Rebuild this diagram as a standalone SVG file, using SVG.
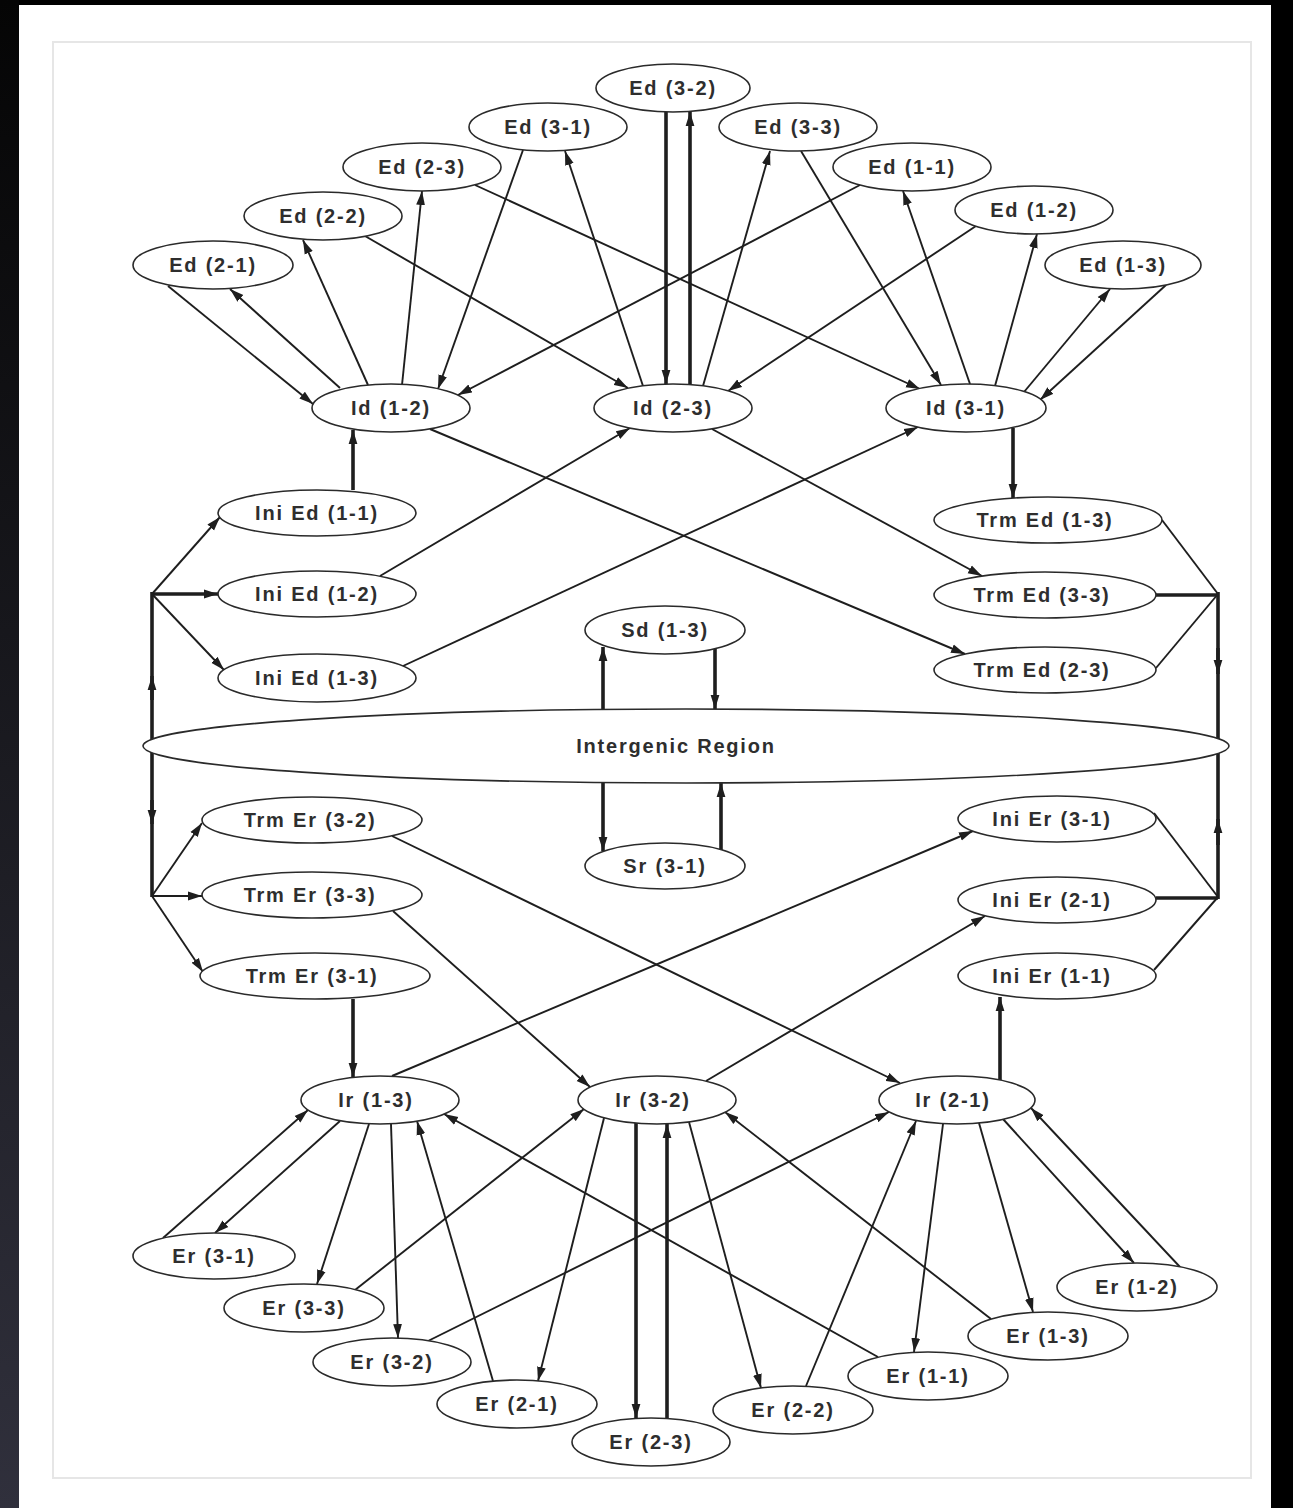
<svg xmlns="http://www.w3.org/2000/svg" width="1293" height="1508" viewBox="0 0 1293 1508">
<defs>
<style>
.n ellipse{fill:#fff;stroke:#2a2a2a;stroke-width:1.6}
.n text{font-family:"Liberation Sans",Arial,sans-serif;font-weight:bold;font-size:20px;letter-spacing:1.8px;fill:#2e2e2e;text-anchor:middle}
.c path{fill:none;stroke:#1e1e1e;stroke-width:1.9}
.c path.t{stroke-width:3.6}
.c path.a{marker-end:url(#ah)}
</style>
<marker id="ah" markerUnits="userSpaceOnUse" markerWidth="15" markerHeight="10" refX="14" refY="5" orient="auto">
<path d="M0,0.6 L14,5 L0,9.4 z" fill="#1e1e1e"/>
</marker>
<linearGradient id="lg" x1="0" y1="0" x2="0" y2="1">
<stop offset="0" stop-color="#050505"/>
<stop offset="1" stop-color="#30303c"/>
</linearGradient>
</defs>
<rect width="1293" height="1508" fill="#000"/>
<rect x="0" y="0" width="19" height="1508" fill="url(#lg)"/>
<rect x="19" y="5" width="1252" height="1503" fill="#fff"/>
<rect x="53" y="42" width="1198" height="1436" fill="none" stroke="#e6e6e6" stroke-width="2"/>

<g id="connectors" class="c">
<!-- top fan -->
<path class="a" d="M168,286 L313,404"/>
<path class="a" d="M340,388 L230,289"/>
<path class="a" d="M368,385 L303,240"/>
<path class="a" d="M402,385 L422,191"/>
<path class="a" d="M523,150 L438,389"/>
<path class="a" d="M860,185 L458,395"/>
<path class="a" d="M365,236 L628,388"/>
<path class="a" d="M643,386 L565,151"/>
<path class="a t" d="M666,112 L666,384"/>
<path class="a t" d="M690,385 L690,112"/>
<path class="a" d="M703,386 L770,151"/>
<path class="a" d="M976,226 L728,391"/>
<path class="a" d="M475,185 L920,389"/>
<path class="a" d="M801,151 L941,385"/>
<path class="a" d="M970,384 L903,191"/>
<path class="a" d="M995,386 L1037,234"/>
<path class="a" d="M1024,392 L1110,289"/>
<path class="a" d="M1166,285 L1040,400"/>
<!-- Ini Ed / Trm Ed -->
<path class="a t" d="M353,490 L353,430"/>
<path class="a" d="M380,576 L630,428"/>
<path class="a" d="M403,666 L918,427"/>
<path class="a" d="M430,429 L965,654"/>
<path class="a" d="M712,429 L982,576"/>
<path class="a t" d="M1013,428 L1013,498"/>
<!-- left upper branch -->
<path class="a" d="M152,594 L220,517"/>
<path class="a t" d="M152,594 L218,594"/>
<path class="a" d="M152,594 L224,670"/>
<!-- right upper branch -->
<path d="M1162,520 L1218,594"/>
<path class="t" d="M1156,595 L1218,595"/>
<path d="M1156,668 L1218,594"/>
<!-- vertical sides -->
<path class="t" d="M152,592 L152,897"/>
<path class="a t" d="M152,700 L152,676"/>
<path class="a t" d="M152,800 L152,824"/>
<path class="t" d="M1218,592 L1218,899"/>
<path class="a t" d="M1218,648 L1218,674"/>
<path class="a t" d="M1218,845 L1218,819"/>
<!-- intergenic links -->
<path class="a t" d="M603,710 L603,647"/>
<path class="a t" d="M715,649 L715,709"/>
<path class="a t" d="M603,783 L603,851"/>
<path class="a t" d="M721,850 L721,783"/>
<!-- left lower branch -->
<path class="a" d="M152,896 L202,823"/>
<path class="a" d="M152,896 L202,896"/>
<path class="a" d="M152,896 L203,972"/>
<!-- right lower branch -->
<path d="M1154,813 L1218,897"/>
<path class="t" d="M1156,898 L1218,898"/>
<path d="M1154,970 L1218,897"/>
<!-- Trm Er / Ini Er -->
<path class="a t" d="M353,999 L353,1077"/>
<path class="a" d="M392,836 L900,1083"/>
<path class="a" d="M393,911 L590,1087"/>
<path class="a" d="M392,1076 L973,831"/>
<path class="a" d="M706,1081 L985,916"/>
<path class="a t" d="M1000,1080 L1000,997"/>
<!-- bottom fan -->
<path class="a" d="M163,1238 L308,1110"/>
<path class="a" d="M340,1121 L215,1233"/>
<path class="a" d="M369,1124 L317,1284"/>
<path class="a" d="M391,1124 L398,1338"/>
<path class="a" d="M493,1381 L417,1121"/>
<path class="a" d="M878,1357 L444,1114"/>
<path class="a" d="M355,1290 L584,1109"/>
<path class="a" d="M428,1341 L889,1112"/>
<path class="a" d="M604,1118 L538,1381"/>
<path class="a t" d="M636,1123 L636,1418"/>
<path class="a t" d="M667,1418 L667,1124"/>
<path class="a" d="M689,1122 L761,1388"/>
<path class="a" d="M991,1319 L725,1112"/>
<path class="a" d="M806,1386 L916,1121"/>
<path class="a" d="M943,1124 L914,1352"/>
<path class="a" d="M979,1123 L1033,1312"/>
<path class="a" d="M1003,1119 L1134,1263"/>
<path class="a" d="M1180,1267 L1031,1108"/>
</g>

<g id="ed32" class="n"><ellipse cx="673" cy="88" rx="77" ry="24"/><text x="673" y="95">Ed (3-2)</text></g>
<g id="ed31" class="n"><ellipse cx="548" cy="127" rx="79" ry="24"/><text x="548" y="134">Ed (3-1)</text></g>
<g id="ed33" class="n"><ellipse cx="798" cy="127" rx="79" ry="24"/><text x="798" y="134">Ed (3-3)</text></g>
<g id="ed23" class="n"><ellipse cx="422" cy="167" rx="79" ry="24"/><text x="422" y="174">Ed (2-3)</text></g>
<g id="ed11" class="n"><ellipse cx="912" cy="167" rx="79" ry="24"/><text x="912" y="174">Ed (1-1)</text></g>
<g id="ed22" class="n"><ellipse cx="323" cy="216" rx="79" ry="24"/><text x="323" y="223">Ed (2-2)</text></g>
<g id="ed12" class="n"><ellipse cx="1034" cy="210" rx="79" ry="24"/><text x="1034" y="217">Ed (1-2)</text></g>
<g id="ed21" class="n"><ellipse cx="213" cy="265" rx="80" ry="24"/><text x="213" y="272">Ed (2-1)</text></g>
<g id="ed13" class="n"><ellipse cx="1123" cy="265" rx="78" ry="24"/><text x="1123" y="272">Ed (1-3)</text></g>

<g id="id12" class="n"><ellipse cx="391" cy="408" rx="79" ry="24"/><text x="391" y="415">Id (1-2)</text></g>
<g id="id23" class="n"><ellipse cx="673" cy="408" rx="79" ry="24"/><text x="673" y="415">Id (2-3)</text></g>
<g id="id31" class="n"><ellipse cx="966" cy="408" rx="80" ry="24"/><text x="966" y="415">Id (3-1)</text></g>

<g id="iniEd11" class="n"><ellipse cx="317" cy="513" rx="99" ry="23"/><text x="317" y="520">Ini Ed (1-1)</text></g>
<g id="iniEd12" class="n"><ellipse cx="317" cy="594" rx="99" ry="23"/><text x="317" y="601">Ini Ed (1-2)</text></g>
<g id="iniEd13" class="n"><ellipse cx="317" cy="678" rx="99" ry="24"/><text x="317" y="685">Ini Ed (1-3)</text></g>

<g id="trmEd13" class="n"><ellipse cx="1048" cy="520" rx="114" ry="23"/><text x="1045" y="527">Trm Ed (1-3)</text></g>
<g id="trmEd33" class="n"><ellipse cx="1045" cy="595" rx="111" ry="23"/><text x="1042" y="602">Trm Ed (3-3)</text></g>
<g id="trmEd23" class="n"><ellipse cx="1045" cy="670" rx="111" ry="23"/><text x="1042" y="677">Trm Ed (2-3)</text></g>

<g id="sd13" class="n"><ellipse cx="665" cy="630" rx="80" ry="24"/><text x="665" y="637">Sd (1-3)</text></g>
<g id="intergenic" class="n"><ellipse cx="686" cy="746" rx="543" ry="37"/><text x="676" y="753">Intergenic Region</text></g>
<g id="sr31" class="n"><ellipse cx="665" cy="866" rx="80" ry="23"/><text x="665" y="873">Sr (3-1)</text></g>

<g id="trmEr32" class="n"><ellipse cx="312" cy="820" rx="110" ry="23"/><text x="310" y="827">Trm Er (3-2)</text></g>
<g id="trmEr33" class="n"><ellipse cx="312" cy="895" rx="110" ry="23"/><text x="310" y="902">Trm Er (3-3)</text></g>
<g id="trmEr31" class="n"><ellipse cx="315" cy="976" rx="115" ry="23"/><text x="312" y="983">Trm Er (3-1)</text></g>

<g id="iniEr31" class="n"><ellipse cx="1057" cy="819" rx="99" ry="23"/><text x="1052" y="826">Ini Er (3-1)</text></g>
<g id="iniEr21" class="n"><ellipse cx="1057" cy="900" rx="99" ry="23"/><text x="1052" y="907">Ini Er (2-1)</text></g>
<g id="iniEr11" class="n"><ellipse cx="1057" cy="976" rx="99" ry="23"/><text x="1052" y="983">Ini Er (1-1)</text></g>

<g id="ir13" class="n"><ellipse cx="380" cy="1100" rx="79" ry="24"/><text x="376" y="1107">Ir (1-3)</text></g>
<g id="ir32" class="n"><ellipse cx="657" cy="1100" rx="79" ry="24"/><text x="653" y="1107">Ir (3-2)</text></g>
<g id="ir21" class="n"><ellipse cx="957" cy="1100" rx="78" ry="24"/><text x="953" y="1107">Ir (2-1)</text></g>

<g id="er31" class="n"><ellipse cx="214" cy="1256" rx="81" ry="23"/><text x="214" y="1263">Er (3-1)</text></g>
<g id="er33" class="n"><ellipse cx="304" cy="1308" rx="80" ry="24"/><text x="304" y="1315">Er (3-3)</text></g>
<g id="er32" class="n"><ellipse cx="392" cy="1362" rx="79" ry="24"/><text x="392" y="1369">Er (3-2)</text></g>
<g id="er21" class="n"><ellipse cx="517" cy="1404" rx="80" ry="24"/><text x="517" y="1411">Er (2-1)</text></g>
<g id="er23" class="n"><ellipse cx="651" cy="1442" rx="79" ry="24"/><text x="651" y="1449">Er (2-3)</text></g>
<g id="er22" class="n"><ellipse cx="793" cy="1410" rx="80" ry="24"/><text x="793" y="1417">Er (2-2)</text></g>
<g id="er11" class="n"><ellipse cx="928" cy="1376" rx="80" ry="24"/><text x="928" y="1383">Er (1-1)</text></g>
<g id="er13" class="n"><ellipse cx="1048" cy="1336" rx="80" ry="24"/><text x="1048" y="1343">Er (1-3)</text></g>
<g id="er12" class="n"><ellipse cx="1137" cy="1287" rx="80" ry="24"/><text x="1137" y="1294">Er (1-2)</text></g>
</svg>
